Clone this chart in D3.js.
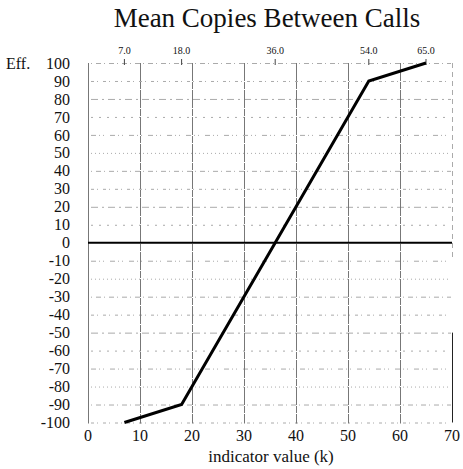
<!DOCTYPE html>
<html>
<head>
<meta charset="utf-8">
<script src="https://cdn.jsdelivr.net/npm/d3@7"></script>
<style>
  body { margin: 0; background: #fff; }
  svg { display: block; }
</style>
</head>
<body>
<div id="chart"></div>
<script>
// curve: indicator value (k) -> efficiency
var curveK = [7, 18, 36, 54, 65];
var curveEff = [-100, -90, 0, 90, 100];
// labels across the top, at the curve's break points
var topLabels = ["7.0", "18.0", "36.0", "54.0", "65.0"];
var xTicks = [0, 10, 20, 30, 40, 50, 60, 70];
var yTicks = d3.range(100, -101, -10);

var width = 463, height = 469;
var svg = d3.select("#chart").append("svg")
    .attr("width", width)
    .attr("height", height)
    .attr("font-family", "Liberation Serif")
    .attr("fill", "#111");

var x = d3.scaleLinear().domain([0, 70]).range([88, 452]);
var y = d3.scaleLinear().domain([-100, 100]).range([422.5, 63]);

// title
svg.append("text")
    .attr("x", 267).attr("y", 27)
    .attr("text-anchor", "middle")
    .attr("font-size", 27)
    .text("Mean Copies Between Calls");

// horizontal dotted grid (scan look: patterns vary row to row)
var dashes = ["1,4,5,3", "3,3,1,5", "7,4,2,4", "2,6", "5,3,1,3,1,6", "1,3"];
svg.append("g").attr("class", "hgrid")
    .selectAll("line")
    .data(yTicks.filter(function(d) { return d != 0; }))
    .join("line")
    .attr("x1", x(0) + 3).attr("x2", x(70) - 1)
    .attr("y1", function(d) { return y(d) + 0.5; })
    .attr("y2", function(d) { return y(d) + 0.5; })
    .attr("stroke", "#aaa")
    .attr("stroke-width", 1)
    .attr("stroke-dasharray", function(d, i) { return dashes[i % dashes.length]; });

// vertical grid
svg.append("g").attr("class", "vgrid")
    .selectAll("line")
    .data(xTicks.filter(function(d) { return d < 70; }))
    .join("line")
    .attr("x1", function(d) { return x(d) + 0.5; })
    .attr("x2", function(d) { return x(d) + 0.5; })
    .attr("y1", y(100)).attr("y2", y(-100) + 1)
    .attr("stroke", "#777")
    .attr("stroke-width", 1)
    .attr("stroke-dasharray", function(d) { return d == 0 ? null : "18,1,7,1"; });

// right edge at k=70: faint above, solid lower section
svg.append("line")
    .attr("x1", x(70) + 0.5).attr("x2", x(70) + 0.5)
    .attr("y1", y(100)).attr("y2", y(-10))
    .attr("stroke", "#aaa").attr("stroke-dasharray", "5,4");
svg.append("line")
    .attr("x1", x(70) + 0.5).attr("x2", x(70) + 0.5)
    .attr("y1", y(-50)).attr("y2", y(-100))
    .attr("stroke", "#222");

// zero line
svg.append("line")
    .attr("x1", x(0)).attr("x2", x(70))
    .attr("y1", y(0)).attr("y2", y(0))
    .attr("stroke", "#000")
    .attr("stroke-width", 2);

// top tick marks + labels
svg.append("g").attr("class", "topticks")
    .selectAll("line")
    .data(curveK)
    .join("line")
    .attr("x1", function(d) { return x(d); })
    .attr("x2", function(d) { return x(d); })
    .attr("y1", y(100) - 4).attr("y2", y(100) + 2)
    .attr("stroke", "#444");
svg.append("g").attr("class", "toplabels")
    .selectAll("text")
    .data(curveK)
    .join("text")
    .attr("x", function(d) { return x(d); })
    .attr("y", 54)
    .attr("text-anchor", "middle")
    .attr("font-size", 10)
    .text(function(d, i) { return topLabels[i]; });

// y labels
svg.append("g").attr("class", "ylabels")
    .selectAll("text")
    .data(yTicks)
    .join("text")
    .attr("x", 70)
    .attr("y", function(d) { return y(d); })
    .attr("dy", "0.35em")
    .attr("text-anchor", "end")
    .attr("font-size", 16)
    .text(function(d) { return d; });
svg.append("text")
    .attr("x", 6).attr("y", y(100))
    .attr("dy", "0.35em")
    .attr("font-size", 16)
    .text("Eff.");

// x labels
svg.append("g").attr("class", "xlabels")
    .selectAll("text")
    .data(xTicks)
    .join("text")
    .attr("x", function(d) { return x(d); })
    .attr("y", 441)
    .attr("text-anchor", "middle")
    .attr("font-size", 16)
    .text(function(d) { return d; });
svg.append("text")
    .attr("x", 271).attr("y", 462)
    .attr("text-anchor", "middle")
    .attr("font-size", 17)
    .text("indicator value (k)");

// curve
var pts = curveK.map(function(k, i) { return [k, curveEff[i]]; });
svg.append("path")
    .datum(pts)
    .attr("fill", "none")
    .attr("stroke", "#000")
    .attr("stroke-width", 3)
    .attr("d", d3.line()
        .x(function(d) { return x(d[0]); })
        .y(function(d) { return y(d[1]); }));
</script>
</body>
</html>
